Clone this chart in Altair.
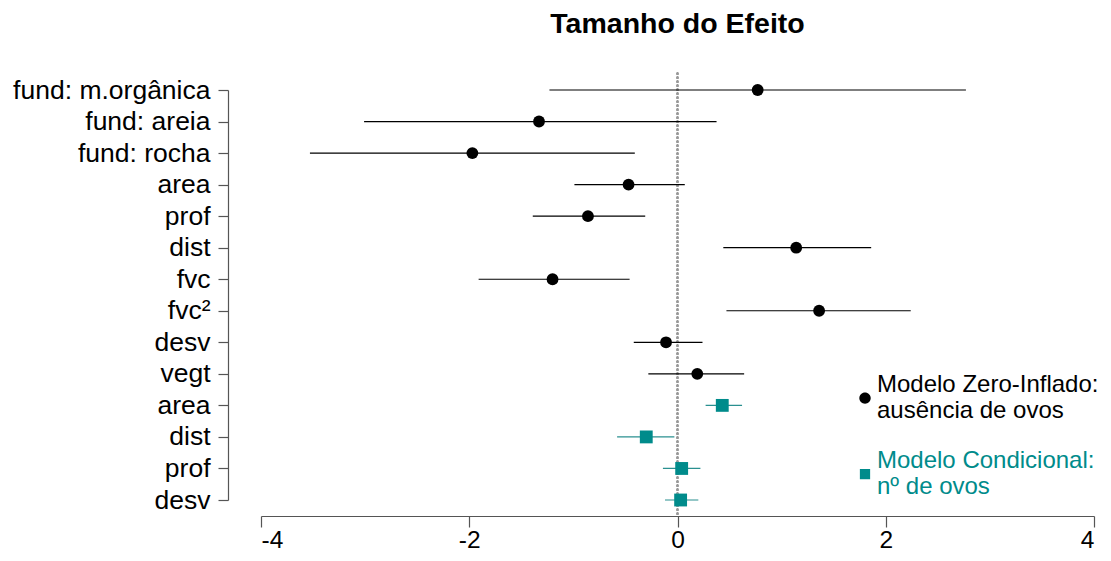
import json
import altair as alt
import pandas as pd

labels = ["fund: m.orgânica", "fund: areia", "fund: rocha", "area", "prof", "dist",
          "fvc", "fvc²", "desv", "vegt", "area", "dist", "prof", "desv"]
estimates = [0.77, -1.33, -1.97, -0.47, -0.86, 1.14, -1.20, 1.36, -0.11, 0.19,
             0.43, -0.30, 0.04, 0.03]
lower = [-1.23, -3.01, -3.53, -0.99, -1.39, 0.44, -1.91, 0.47, -0.42, -0.28,
         0.27, -0.58, -0.14, -0.12]
upper = [2.77, 0.375, -0.41, 0.07, -0.31, 1.86, -0.46, 2.24, 0.24, 0.64,
         0.62, -0.03, 0.22, 0.20]
model_names = ["Modelo Zero-Inflado:\nausência de ovos", "Modelo Condicional:\nnº de ovos"]
model_of_row = [0] * 10 + [1] * 4
x_ticks = [-4, -2, 0, 2, 4]

rows = list(range(1, len(labels) + 1))
df = pd.DataFrame({
    "row": rows,
    "label": labels,
    "est": estimates,
    "lo": lower,
    "hi": upper,
    "model": [model_names[m] for m in model_of_row],
})

FONT = "Liberation Sans"
TEAL = "#008B8B"
TEAL_LINE = "#2a9090"
label_expr = "[" + ",".join(json.dumps(l, ensure_ascii=False) for l in labels) + "][datum.value - 1]"
is_cond = "indexof(datum.value, 'Condicional') >= 0"
is_cond_label = "indexof(datum.label, 'Condicional') >= 0"

# legend symbols shifted down so they sit between the two label lines
D = 2.3
circle_path = f"M -1 {D} A 1 1 0 1 0 1 {D} A 1 1 0 1 0 -1 {D} Z"
square_path = f"M -0.9 {D-0.9} L 0.9 {D-0.9} L 0.9 {D+0.9} L -0.9 {D+0.9} Z"

xscale = alt.Scale(domain=[-4, 4], nice=False, zero=False)
yscale = alt.Scale(domain=[1, 14], reverse=True, nice=False, zero=False)

xaxis = alt.Axis(values=x_ticks, labelExpr="datum.value + ''", title=None, grid=False,
                 tickSize=11, labelFontSize=24.5, labelPadding=1, domainColor="#555",
                 tickColor="#555", labelColor="black", labelFont=FONT, offset=16,
                 domainWidth=1.2, tickWidth=1.2)
yaxis = alt.Axis(values=rows, labelExpr=label_expr, title=None, grid=False, tickSize=10,
                 labelFontSize=26.5, labelPadding=8, domainColor="#555", tickColor="#555",
                 labelColor="black", labelFont=FONT, offset=33, domainWidth=1.2,
                 tickWidth=1.2, labelLimit=400)

base = alt.Chart(df)
color_scale = alt.Scale(domain=model_names, range=["black", TEAL])

zero_line = base.mark_rule(strokeDash=[2, 2], color="#999", strokeWidth=1.3).encode(
    x=alt.datum(0, scale=xscale, axis=xaxis),
    y=alt.datum(0.45, scale=yscale, axis=yaxis),
    y2=alt.datum(14.5),
)


def ci_layer(model, colour):
    return base.transform_filter(alt.datum.model == model).mark_rule(
        strokeWidth=1.2, color=colour).encode(
        x=alt.X("lo:Q", scale=xscale, axis=xaxis),
        x2="hi:Q",
        y=alt.Y("row:Q", scale=yscale, axis=yaxis),
    )


ci0 = ci_layer(model_names[0], "black")
ci1 = ci_layer(model_names[1], TEAL_LINE)

pts = base.mark_point(filled=True, opacity=1).encode(
    x=alt.X("est:Q", scale=xscale, axis=xaxis),
    y=alt.Y("row:Q", scale=yscale, axis=yaxis),
    color=alt.Color("model:N", scale=color_scale, legend=None),
    shape=alt.Shape("model:N", scale=alt.Scale(domain=model_names, range=["circle", "square"]),
                    legend=None),
    size=alt.Size("model:N", scale=alt.Scale(domain=model_names, range=[140, 165]), legend=None),
)

# invisible layer that only carries the legend
legend_layer = base.mark_point(filled=True, opacity=0).encode(
    x=alt.X("est:Q", scale=xscale, axis=xaxis),
    y=alt.Y("row:Q", scale=yscale, axis=yaxis),
    color=alt.Color("model:N", scale=color_scale, legend=None),
    shape=alt.Shape("model:N", scale=alt.Scale(domain=model_names, range=[circle_path, square_path]),
                    legend=alt.Legend(
                        title=None, orient="none", legendX=592, legendY=283,
                        labelExpr="split(datum.label, '\\n')",
                        labelFont=FONT, labelFontSize=24, labelLimit=400,
                        labelOffset=0, rowPadding=26, padding=0,
                        symbolSize=130, symbolStrokeWidth=0, symbolOpacity=1,
                        symbolFillColor={"expr": is_cond + " ? '" + TEAL + "' : 'black'"},
                        labelColor={"expr": is_cond_label + " ? '" + TEAL + "' : 'black'"},
                    )),
)

chart = alt.layer(zero_line, ci0, ci1, pts, legend_layer).resolve_scale(
    shape="independent"
).properties(
    width=833,
    height=410,
    title=alt.TitleParams("Tamanho do Efeito", font=FONT, fontSize=28.5, fontWeight="bold",
                          anchor="middle", frame="group", color="black", offset=34),
    padding={"left": 4, "top": 1, "right": 0, "bottom": 0},
).configure(background="white").configure_view(stroke=None)

chart.save("out.html", embed_options={"renderer": "svg", "actions": False})
